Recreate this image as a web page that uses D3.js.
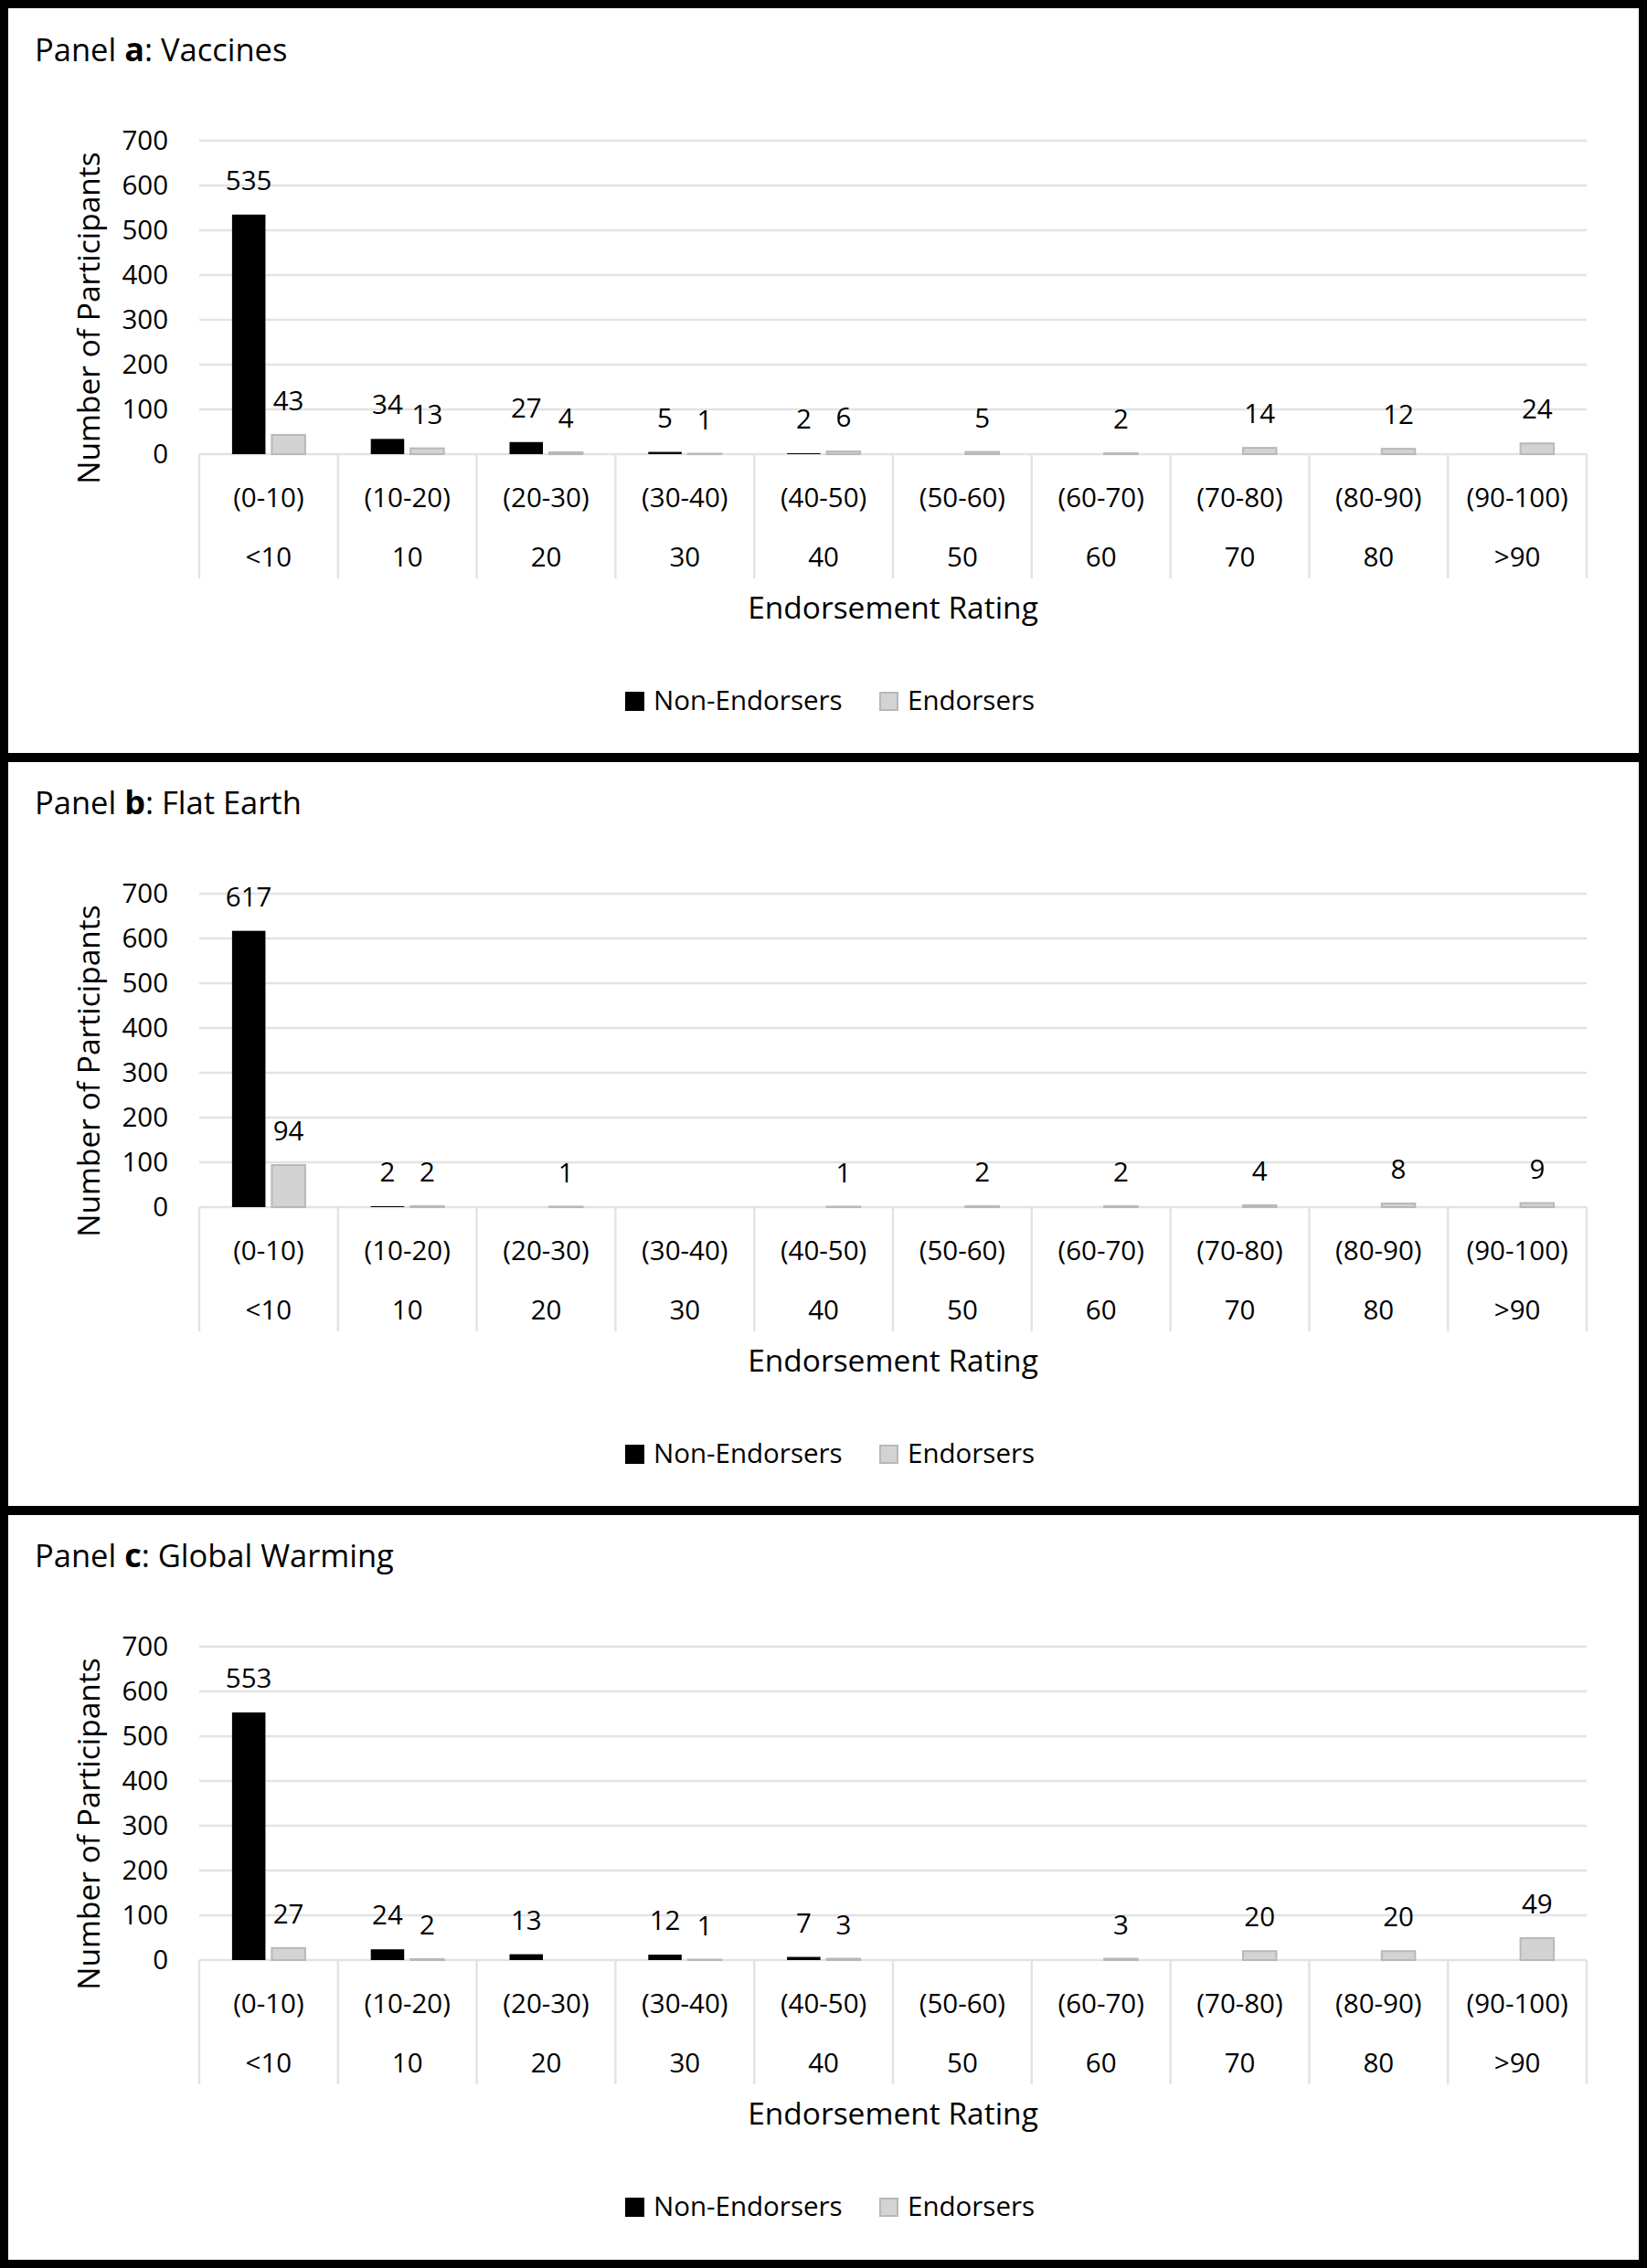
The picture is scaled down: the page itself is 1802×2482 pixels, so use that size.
<!DOCTYPE html>
<html>
<head>
<meta charset="utf-8">
<script src="https://cdn.jsdelivr.net/npm/d3@7"></script>
<style>
  body { margin: 0; background: #fff; }
  text { font-family: "Open Sans", "Noto Sans", sans-serif; fill: #000; }
</style>
</head>
<body>
<div id="chart"></div>
<script>
var width = 1802
var height = 2482

// data
var categories = ["(0-10)", "(10-20)", "(20-30)", "(30-40)", "(40-50)", "(50-60)", "(60-70)", "(70-80)", "(80-90)", "(90-100)"];
var subLabels = ["<10", "10", "20", "30", "40", "50", "60", "70", "80", ">90"];
var series = ["Non-Endorsers", "Endorsers"];
var yTicks = [0, 100, 200, 300, 400, 500, 600, 700];

var panelLetters = ["a", "b", "c"];
var panelNames = ["Vaccines", "Flat Earth", "Global Warming"];

var vaccinesNon = [535, 34, 27, 5, 2, null, null, null, null, null];
var vaccinesEnd = [43, 13, 4, 1, 6, 5, 2, 14, 12, 24];
var flatNon = [617, 2, null, null, null, null, null, null, null, null];
var flatEnd = [94, 2, 1, null, 1, 2, 2, 4, 8, 9];
var warmingNon = [553, 24, 13, 12, 7, null, null, null, null, null];
var warmingEnd = [27, 2, null, 1, 3, null, 3, 20, 20, 49];

var panelData = [[vaccinesNon, vaccinesEnd], [flatNon, flatEnd], [warmingNon, warmingEnd]];

var fills = {"Non-Endorsers": "#000000", "Endorsers": "#d3d3d3"};
var strokes = {"Non-Endorsers": "none", "Endorsers": "#b8b8b8"};

var panelStep = 824;
var gridColor = "#e3e3e3";

var svg = d3.select("#chart")
  .append("svg")
  .attr("width", width)
  .attr("height", height);

svg.append("rect").attr("width", width).attr("height", height).attr("fill", "#fff");

var x0 = d3.scaleBand().domain(categories).range([218, 1736]).padding(0);
var bw = x0.bandwidth();
var x1 = d3.scaleBand().domain(series).range([bw / 2 - 40, bw / 2 + 40]).paddingInner(0.16);
var y = d3.scaleLinear().domain([0, 700]).range([497, 154]);

panelData.forEach(function(pd, i) {
  var g = svg.append("g").attr("transform", "translate(0," + (i * panelStep) + ")");

  // title
  var t = g.append("text")
    .attr("x", 38)
    .attr("y", 67)
    .style("font-size", "34.5px");
  t.append("tspan").text("Panel ");
  t.append("tspan").style("font-weight", "bold").style("font-size", "36px").text(panelLetters[i]);
  t.append("tspan").text(": " + panelNames[i]);

  // gridlines
  g.append("g").selectAll("line")
    .data(yTicks)
    .enter().append("line")
    .attr("x1", 218).attr("x2", 1736)
    .attr("y1", function(d) { return y(d); })
    .attr("y2", function(d) { return y(d); })
    .attr("stroke", gridColor)
    .attr("stroke-width", 2.5);

  // y axis labels
  var yAxis = d3.axisLeft(y).tickValues(yTicks).tickSize(0).tickPadding(0);
  var ya = g.append("g").attr("transform", "translate(184,0)").call(yAxis);
  ya.select(".domain").remove();
  ya.selectAll("text")
    .style("font-size", "29.5px")
    .style("font-family", "'Open Sans', sans-serif")
    .attr("fill", "#000");

  // category separators
  var bounds = categories.map(function(c) { return x0(c); }).concat([x0.range()[1]]);
  g.append("g").selectAll("line")
    .data(bounds)
    .enter().append("line")
    .attr("x1", function(d) { return d; })
    .attr("x2", function(d) { return d; })
    .attr("y1", y(0)).attr("y2", y(0) + 136)
    .attr("stroke", gridColor)
    .attr("stroke-width", 2.5);

  // category labels
  var cl = g.append("g").selectAll("g")
    .data(categories)
    .enter().append("g")
    .attr("transform", function(d) { return "translate(" + (x0(d) + bw / 2) + ",0)"; });
  cl.append("text")
    .attr("y", y(0) + 58)
    .attr("text-anchor", "middle")
    .style("font-size", "29.5px")
    .text(function(d) { return d; });
  cl.append("text")
    .attr("y", y(0) + 123)
    .attr("text-anchor", "middle")
    .style("font-size", "29.5px")
    .text(function(d, j) { return subLabels[j]; });

  // bars
  var rows = [];
  categories.forEach(function(c, j) {
    series.forEach(function(s, k) {
      if (pd[k][j] != null) rows.push({cat: c, series: s, value: pd[k][j]});
    });
  });

  var bars = g.append("g");
  bars.selectAll("rect")
    .data(rows)
    .enter().append("rect")
    .attr("x", function(d) { return x0(d.cat) + x1(d.series); })
    .attr("width", x1.bandwidth())
    .attr("y", function(d) { return y(d.value); })
    .attr("height", function(d) { return y(0) - y(d.value); })
    .attr("fill", function(d) { return fills[d.series]; })
    .attr("stroke", function(d) { return strokes[d.series]; })
    .attr("stroke-width", 2);

  bars.selectAll("text")
    .data(rows)
    .enter().append("text")
    .attr("x", function(d) { return x0(d.cat) + x1(d.series) + x1.bandwidth() / 2; })
    .attr("y", function(d) { return y(d.value) - 27; })
    .attr("text-anchor", "middle")
    .style("font-size", "29.5px")
    .text(function(d) { return d.value; });

  // axis titles
  g.append("text")
    .attr("transform", "translate(109,348) rotate(-90)")
    .attr("text-anchor", "middle")
    .style("font-size", "33.5px")
    .text("Number of Participants");

  g.append("text")
    .attr("x", (218 + 1736) / 2)
    .attr("y", y(0) + 180)
    .attr("text-anchor", "middle")
    .style("font-size", "33.5px")
    .text("Endorsement Rating");

  // legend
  var legendX = [684, 962];
  var lg = g.append("g").selectAll("g")
    .data(series)
    .enter().append("g")
    .attr("transform", function(d, k) { return "translate(" + legendX[k] + ",757)"; });
  lg.append("rect")
    .attr("x", 1).attr("y", 1)
    .attr("width", 19).attr("height", 19)
    .attr("fill", function(d) { return fills[d]; })
    .attr("stroke", function(d) { return d == "Endorsers" ? "#b8b8b8" : "#000"; })
    .attr("stroke-width", 2);
  lg.append("text")
    .attr("x", 31)
    .attr("y", 20)
    .style("font-size", "29.5px")
    .text(function(d) { return d; });

  // panel frame
  g.append("rect")
    .attr("x", 4.5).attr("y", 4.5)
    .attr("width", width - 9).attr("height", 825)
    .attr("fill", "none")
    .attr("stroke", "#000")
    .attr("stroke-width", 9);
});
</script>
</body>
</html>
